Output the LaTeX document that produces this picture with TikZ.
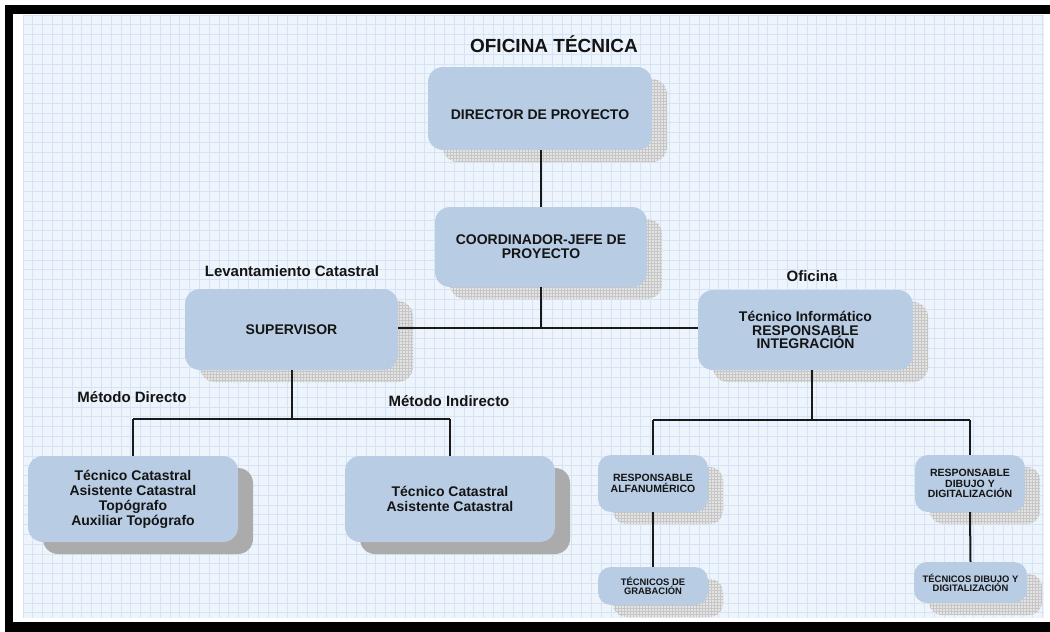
\documentclass[tikz,border=0pt]{standalone}
\usepackage{fontspec}
\setmainfont{Liberation Sans}
\usetikzlibrary{shadows,patterns,backgrounds}
\definecolor{boxblue}{HTML}{B8CCE4}
\definecolor{gridbg}{HTML}{EEF4FC}
\definecolor{gridline}{HTML}{D6E3F4}
\definecolor{shadowbase}{HTML}{E4E4E4}
\definecolor{shadowline}{HTML}{C6C6C6}
\definecolor{solidshadow}{HTML}{ABABAB}
\definecolor{textcol}{HTML}{141414}
\tikzset{
  box/.style={fill=boxblue, draw=none, rounded corners=15pt, inner sep=0pt, align=center, text=textcol},
  hshadow/.style={general shadow={shadow xshift=15pt, shadow yshift=-12pt, fill=shadowbase},
                  general shadow={shadow xshift=15pt, shadow yshift=-12pt, pattern=grid, pattern color=shadowline}},
  sshadow/.style={general shadow={shadow xshift=15pt, shadow yshift=-12pt, fill=solidshadow}},
  bigtxt/.style={font=\bfseries\fontsize{14}{14}\selectfont},
  smalltxt/.style={font=\bfseries\fontsize{10.5}{11}\selectfont},
  tinytxt/.style={font=\bfseries\fontsize{9.4}{9}\selectfont},
  lbl/.style={font=\bfseries\fontsize{15}{15}\selectfont, text=textcol, inner sep=0pt},
  conn/.style={draw=black!90, line width=2pt}
}
\begin{document}
\begin{tikzpicture}[x=1pt,y=-1pt]
\useasboundingbox (0,0) rectangle (1050,632);
% frame and background grid
\fill[white] (0,0) rectangle (1050,632);
\fill[black] (5,5) rectangle (1050,14);
\fill[black] (5,5) rectangle (13,632);
\fill[black] (5,622) rectangle (1050,632);
\fill[gridbg] (23,15) rectangle (1044,618);
\foreach \i in {0,...,104} {\draw[gridline, line width=0.9pt] ({23+9.8*\i},15) -- ({23+9.8*\i},618);}
\foreach \j in {0,...,61} {\draw[gridline, line width=0.9pt] (23,{15+9.8*\j}) -- (1044,{15+9.8*\j});}

% title
\node[font=\bfseries\fontsize{19}{19}\selectfont, text=textcol, inner sep=0pt] (title) at (554,44) {OFICINA TÉCNICA};

% boxes
\node[box, hshadow, minimum width=224pt, minimum height=83pt] (dir) at (540,108.5) {};
\node[bigtxt, text=textcol, inner sep=0pt] (dirt) at (540,115) {DIRECTOR DE PROYECTO};
\node[box, hshadow, bigtxt, minimum width=212pt, minimum height=80pt] (coord) at (541,247) {COORDINADOR-JEFE DE\\PROYECTO};
\node[box, hshadow, bigtxt, minimum width=213pt, minimum height=81pt] (sup) at (291.5,329.5) {SUPERVISOR};
\node[box, hshadow, font=\bfseries\fontsize{14}{13.5}\selectfont, minimum width=215pt, minimum height=80pt] (info) at (805.5,330) {Técnico Informático\\RESPONSABLE\\INTEGRACIÓN};

\node[box, sshadow, font=\bfseries\fontsize{14}{15}\selectfont, minimum width=210pt, minimum height=86pt] (ml1) at (133,499) {Técnico Catastral\\Asistente Catastral\\Topógrafo\\Auxiliar Topógrafo};
\node[box, sshadow, font=\bfseries\fontsize{14}{15}\selectfont, minimum width=210pt, minimum height=86pt] (ml2) at (450,499) {Técnico Catastral\\Asistente Catastral};

\node[box, hshadow, smalltxt, rounded corners=13pt, minimum width=110pt, minimum height=57pt] (ra) at (653,483.5) {RESPONSABLE\\ALFANUMÉRICO};
\node[box, hshadow, font=\bfseries\fontsize{10.5}{10.5}\selectfont, rounded corners=13pt, minimum width=110pt, minimum height=57pt] (rd) at (970,483.5) {RESPONSABLE\\DIBUJO Y\\DIGITALIZACIÓN};
\node[box, hshadow, tinytxt, rounded corners=13pt, minimum width=110pt, minimum height=38pt] (tg) at (653,586) {TÉCNICOS DE\\GRABACIÓN};
\node[box, hshadow, tinytxt, rounded corners=13pt, minimum width=113pt, minimum height=41pt] (td) at (970.5,582.5) {TÉCNICOS DIBUJO Y\\DIGITALIZACIÓN};

% labels
\node[lbl] (lev) at (292,271) {Levantamiento Catastral};
\node[lbl] (ofi) at (812,276) {Oficina};
\node[lbl] (mdir) at (132,397) {Método Directo};
\node[lbl] (mind) at (449,401) {Método Indirecto};

% junctions
\coordinate (j0) at (541,328);
\coordinate (j1) at (292,419);
\coordinate (j2) at (812,420);

% connectors
\draw[conn] (dir.south -| coord) -- (coord.north);
\draw[conn] (coord.south) -- (j0);
\draw[conn] (sup.east |- j0) -- (info.west |- j0);
\draw[conn] (j1 |- sup.south) -- (j1);
\draw[conn] (ml1 |- j1) -- (ml2 |- j1);
\draw[conn] (ml1 |- j1) -- (ml1.north);
\draw[conn] (ml2 |- j1) -- (ml2.north);
\draw[conn] (j2 |- info.south) -- (j2);
\draw[conn] (ra |- j2) -- (rd |- j2);
\draw[conn] (ra |- j2) -- (ra.north);
\draw[conn] (rd |- j2) -- (rd.north);
\draw[conn] (ra.south) -- (tg.north);
\draw[conn] (rd.south) -- (td.north);
\end{tikzpicture}
\end{document}
